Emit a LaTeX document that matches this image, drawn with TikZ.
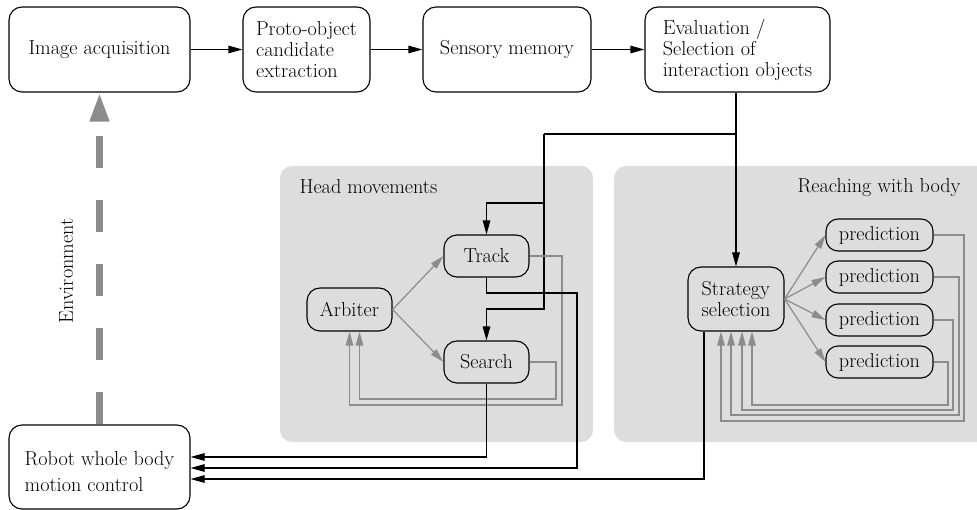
\documentclass[tikz,border=0pt]{standalone}
\usetikzlibrary{arrows.meta,calc}
\definecolor{panelgray}{RGB}{221,221,221}
\definecolor{linkgray}{RGB}{140,140,140}
\begin{document}
\begin{tikzpicture}[x=1pt,y=-1pt,
  every node/.style={font=\fontsize{20.2}{21}\selectfont},
  box/.style={draw, rounded corners=13pt, line width=1.1pt, inner sep=0pt, align=left},
  toprow/.style={box, minimum height=85pt},
  inbox/.style={box, fill=panelgray, minimum width=85pt, minimum height=42pt},
  predbox/.style={box, fill=panelgray, rounded corners=12pt, minimum width=107pt, minimum height=32pt},
  flow/.style={line width=1.1pt, -{Triangle[length=14pt,width=7.5pt]}},
  wire/.style={line width=1.1pt},
  fb/.style={linkgray, line width=1.2pt, -{Triangle[length=14pt,width=7.5pt]}},
  panel/.style={fill=panelgray, rounded corners=12pt},
]
\useasboundingbox (0,0) rectangle (977,510);

% grey group panels
\fill[panel] (280,166) rectangle (593,442);
\fill[panel] (614,166) rectangle (1000,442);
\node[anchor=west] (headlabel) at (296,187) {Head movements};
\node[anchor=east] (reachlabel) at (964,188) {Reaching with body};

% perception pipeline
\node[toprow, minimum width=181pt] (acq) at (99.5,49.5) {Image acquisition};
\node[toprow, minimum width=127pt] (proto) at (306.5,49.5) {Proto-object\\candidate\\extraction};
\node[toprow, minimum width=168pt] (sens) at (507,49.5) {Sensory memory};
\node[toprow, minimum width=185pt] (eval) at (737.5,49.5) {Evaluation /\\Selection of\\interaction objects};

% motion control
\node[box, minimum width=181pt, minimum height=84pt] (robot) at (99.5,467)
  {\rule{0pt}{24pt}Robot whole body\\[5pt]motion control};

% head movements
\node[inbox] (track) at (486.5,256) {Track};
\node[inbox] (search) at (486.5,362) {Search};
\node[inbox, minimum height=43pt] (arbiter) at (349.5,309.5) {Arbiter};

% reaching
\node[inbox, minimum width=96pt, minimum height=64pt] (strategy) at (736,299) {Strategy\\selection};
\node[predbox] (p1) at (879.5,235) {prediction};
\node[predbox] (p2) at (879.5,277) {prediction};
\node[predbox] (p3) at (879.5,320) {prediction};
\node[predbox] (p4) at (879.5,362) {prediction};

% environment loop
\draw[linkgray, line width=7pt, dash pattern=on 32pt off 32pt,
      -{Triangle[length=29pt,width=18pt]}] (robot.north) -- (acq.south);
\node[rotate=90] (env) at (66,271) {Environment};

% pipeline arrows
\draw[flow] (acq.east) -- (proto.west);
\draw[flow] (proto.east) -- (sens.west);
\draw[flow] (sens.east) -- (eval.west);
\draw[flow] (eval.south -| strategy.north) -- (strategy.north);

% branch to the head controllers
\coordinate (split) at (736,134);
\coordinate (trunk) at (544,134);
\draw[wire] (split) -- (trunk);
\draw[flow] (trunk) -- (544,203) -| (track.north);
\draw[flow] (trunk) -- (544,309) -| (search.north);

% arbiter choices and feedback
\draw[fb] (arbiter.east) -- (track.west);
\draw[fb] (arbiter.east) -- (search.west);
\draw[fb] (track.east) -| (562,405) -| (arbiter.south);
\draw[fb] (search.east) -| (556,399) -| ($(arbiter.south)+(10,0)$);

% strategy predictions and feedback
\foreach \p in {p1,p2,p3,p4} \draw[fb] (strategy.east) -- (\p.west);
\draw[fb] (p1.east) -| (964,421) -| ($(strategy.south)+(-15,0)$);
\draw[fb] (p2.east) -| (959,415) -| ($(strategy.south)+(-5,0)$);
\draw[fb] (p3.east) -| (953,410) -| ($(strategy.south)+(6,0)$);
\draw[fb] (p4.east) -| (948,405) -| ($(strategy.south)+(16,0)$);

% commands to the body
\draw[flow] (search.south) |- ($(robot.east)+(0,-10)$);
\draw[flow] (track.south) |- (577,293) |- ($(robot.east)+(0,1)$);
\draw[flow] ($(strategy.south)+(-32,0)$) |- ($(robot.east)+(0,12)$);
\end{tikzpicture}
\end{document}
